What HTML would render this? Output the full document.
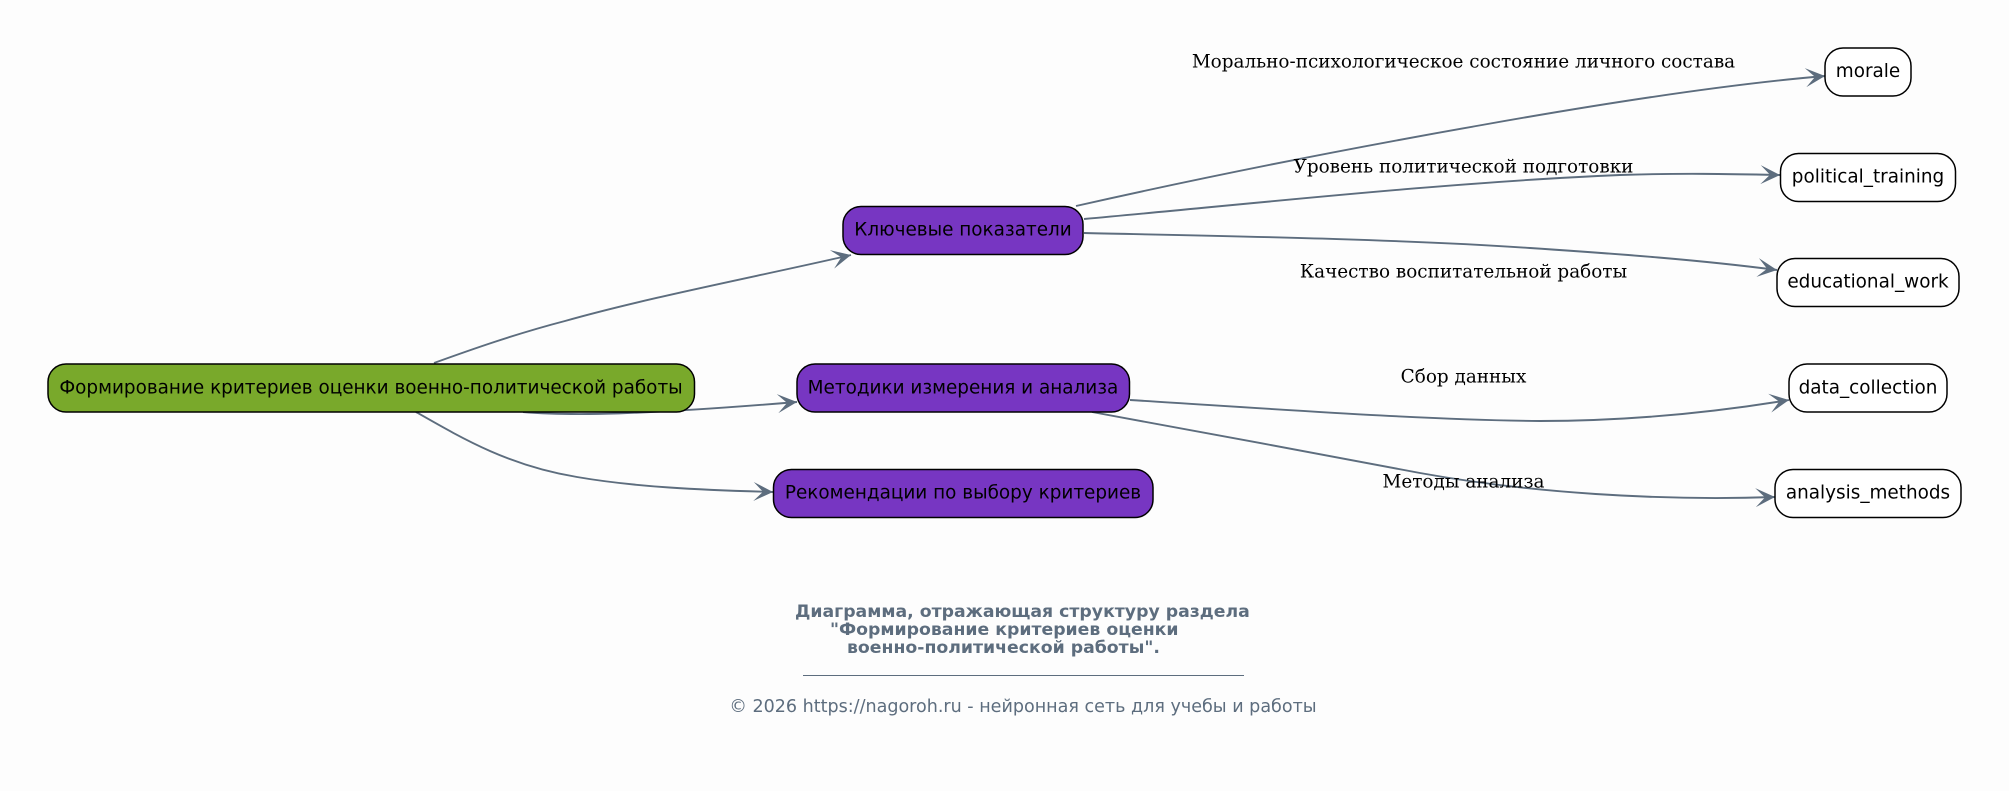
<!DOCTYPE html>
<html><head><meta charset="utf-8"><style>
html,body{margin:0;padding:0;background:#fdfdfd;width:2009px;height:791px;overflow:hidden}
svg{display:block}
.n{stroke:#000;stroke-width:1.5}
.t{font:18.4px "DejaVu Sans",sans-serif;fill:#000;text-anchor:middle}
.l{font:18.4px "DejaVu Serif",serif;fill:#000;text-anchor:middle}
.e{fill:none;stroke:#5d6d7e;stroke-width:1.9}
.b{font:bold 17.3px "DejaVu Sans",sans-serif;fill:#5d6d7e}
</style></head><body>
<svg width="2009" height="791" viewBox="0 0 2009 791" xmlns="http://www.w3.org/2000/svg">
<defs><marker id="v" markerUnits="userSpaceOnUse" markerWidth="24" markerHeight="24" refX="20" refY="12" orient="auto" overflow="visible"><path d="M20,12 L0.5,2.5 L10,12 L0.5,21.5 Z" fill="#5d6d7e"/></marker></defs>
<rect width="2009" height="791" fill="#fdfdfd"/>
<path class="e" marker-end="url(#v)" d="M434,363 C470,350 515,334 565,321 C650,297 760,276 851,255"/>
<path class="e" marker-end="url(#v)" d="M523,412 C570,416 640,415 797,402"/>
<path class="e" marker-end="url(#v)" d="M416,412 C465,440 510,466 577,477 C635,487 700,490 773,492"/>
<path class="e" marker-end="url(#v)" d="M1076,206 C1200,178 1340,150 1482,125 C1600,104 1730,84 1825,76"/>
<path class="e" marker-end="url(#v)" d="M1084,219 C1250,204 1450,182 1620,175 C1680,173 1730,174 1780,175"/>
<path class="e" marker-end="url(#v)" d="M1084,233 C1220,236 1400,239 1530,248 C1620,254 1700,260 1777,270"/>
<path class="e" marker-end="url(#v)" d="M1130,400 C1260,408 1420,420 1540,421 C1630,421 1710,413 1789,400"/>
<path class="e" marker-end="url(#v)" d="M1092,412 C1190,430 1320,454 1420,473 C1530,493 1660,501 1775,497"/>
<rect class="n" x="48" y="364" width="646.5" height="48" rx="18" fill="#79a92b"/>
<rect class="n" x="843" y="206.5" width="240" height="48" rx="18" fill="#7736c2"/>
<rect class="n" x="797" y="364" width="332.5" height="48" rx="18" fill="#7736c2"/>
<rect class="n" x="773.5" y="469.5" width="379.5" height="48" rx="18" fill="#7736c2"/>
<rect class="n" x="1825" y="48" width="86" height="48" rx="18" fill="#fff"/>
<rect class="n" x="1780.5" y="153.5" width="175" height="48" rx="18" fill="#fff"/>
<rect class="n" x="1777" y="258.5" width="182" height="48" rx="18" fill="#fff"/>
<rect class="n" x="1789" y="364" width="158" height="48" rx="18" fill="#fff"/>
<rect class="n" x="1775" y="469.5" width="186" height="48" rx="18" fill="#fff"/>
<text class="t" x="371" y="393.5">Формирование критериев оценки военно-политической работы</text>
<text class="t" x="963" y="235.5">Ключевые показатели</text>
<text class="t" x="963" y="393.5">Методики измерения и анализа</text>
<text class="t" x="963" y="498.5">Рекомендации по выбору критериев</text>
<text class="t" x="1868" y="77">morale</text>
<text class="t" x="1868" y="182.5">political_training</text>
<text class="t" x="1868" y="287.5">educational_work</text>
<text class="t" x="1868" y="393.5">data_collection</text>
<text class="t" x="1868" y="498.5">analysis_methods</text>
<text class="l" x="1463.5" y="67.5">Морально-психологическое состояние личного состава</text>
<text class="l" x="1463.5" y="172.5">Уровень политической подготовки</text>
<text class="l" x="1463.5" y="277.5">Качество воспитательной работы</text>
<text class="l" x="1463.5" y="382.5">Сбор данных</text>
<text class="l" x="1463.5" y="487.5">Методы анализа</text>
<text class="b" x="795" y="617">Диаграмма, отражающая структуру раздела</text>
<text class="b" x="830" y="635">"Формирование критериев оценки</text>
<text class="b" x="847" y="653">военно-политической работы".</text>
<line x1="803" y1="675.5" x2="1244" y2="675.5" stroke="#5d6d7e" stroke-width="1"/>
<text x="1023" y="712" text-anchor="middle" style="font:17.55px 'DejaVu Sans',sans-serif;fill:#5d6d7e">© 2026 https://nagoroh.ru - нейронная сеть для учебы и работы</text>
</svg>
</body></html>
